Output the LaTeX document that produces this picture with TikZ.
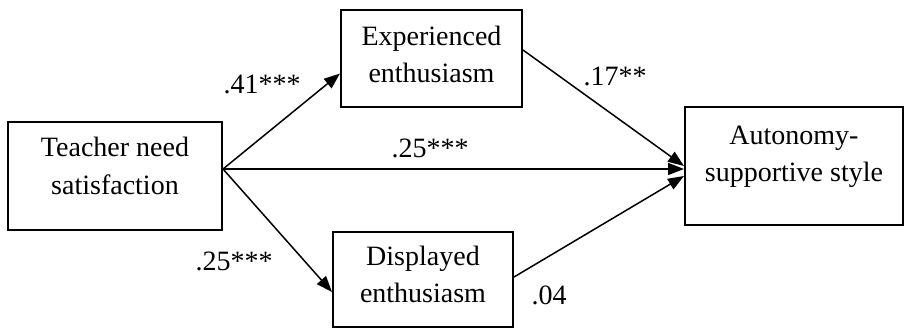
\documentclass[tikz,border=0pt]{standalone}
\usepackage{fontspec}
\setmainfont{Liberation Serif}
\usetikzlibrary{arrows.meta}
\newcommand\padbelow[1]{\rule[-#1]{0pt}{#1}}

\begin{document}
\begin{tikzpicture}[x=1pt,y=-1pt,
    every node/.style={font=\fontsize{28}{37.5}\selectfont},
    box/.style={draw,line width=2pt,align=center,inner sep=0pt},
    effect/.style={line width=1.5pt,-{Triangle[length=16pt,width=12pt]}},
    coef/.style={inner sep=0pt,anchor=base}]
       \useasboundingbox (0,0) rectangle (906,330);
       \node[box,minimum width=214pt,minimum height=108pt] (tns) at (115,176)
         {Teacher need\\satisfaction\padbelow{20pt}};
       \node[box,minimum width=181pt,minimum height=97pt] (exp) at (431.5,58.5)
         {Experienced\\enthusiasm\padbelow{8pt}};
       \node[box,minimum width=180pt,minimum height=95pt] (dsp) at (423,279.5)
         {Displayed\\enthusiasm\padbelow{10pt}};
       \node[box,minimum width=218pt,minimum height=118pt] (aut) at (794,166)
         {Autonomy-\\supportive style\padbelow{24pt}};
       \draw[effect] ([yshift=7pt]tns.east) -- ([yshift=-15pt]exp.west);
       \draw[effect] ([yshift=7pt]tns.east) -- ([yshift=-3pt]aut.west);
       \draw[effect] ([yshift=7pt]tns.east) -- ([yshift=-12.5pt]dsp.west);
       \draw[effect] ([yshift=8.5pt]exp.east) -- (aut.west);
       \draw[effect] ([yshift=2.5pt]dsp.east) -- ([yshift=-10pt]aut.west);
       \node[coef] (c1) at (262,93) {.41***};
       \node[coef] (c2) at (430,157) {.25***};
       \node[coef] (c3) at (615,85) {.17**};
       \node[coef] (c4) at (234,270) {.25***};
       \node[coef] (c5) at (549,304) {.04};
      \end{tikzpicture}
\end{document}
